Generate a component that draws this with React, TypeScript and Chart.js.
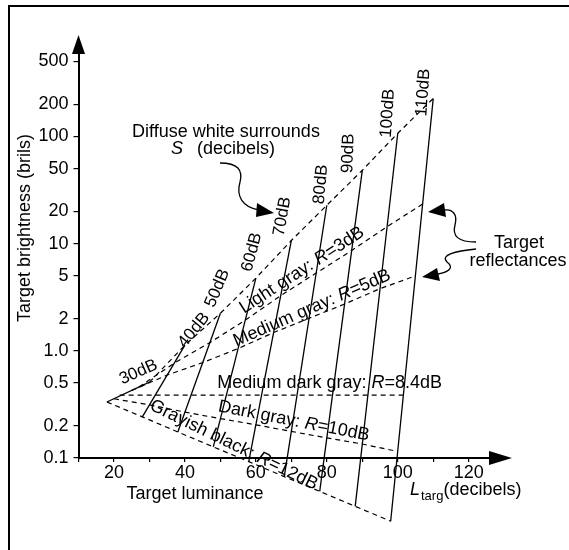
import React, { useEffect, useRef } from "react";
import { Chart, registerables } from "chart.js";

Chart.register(...registerables);

// ---------- data ----------
const surrounds = [30, 40, 50, 60, 70, 80, 90, 100, 110]; // diffuse white surround S (dB)
const surroundLabels = ["30dB", "40dB", "50dB", "60dB", "70dB", "80dB", "90dB", "100dB", "110dB"];

// target reflectances (dB below white)
const reflWhite = 0;
const reflLightGray = 3;
const reflMediumGray = 5;
const reflMediumDarkGray = 8.4;
const reflDarkGray = 10;
const reflGrayishBlack = 12;

// brightness (brils) read at L = S - R on each surround line
const whiteBrils = [0.51, 1.13, 2.24, 4.76, 10.7, 22.8, 48.3, 107, 226];
const lightGrayBrils = [0.458, 0.768, 1.19, 1.93, 3.27, 5.31, 8.61, 14.4, 23.4];
const mediumGrayBrils = [0.427, 0.594, 0.776, 1.05, 1.48, 2.01, 2.73, 3.8, 5.0];
const mediumDarkGrayBrils = [0.386, 0.386, 0.386, 0.386, 0.386, 0.386, 0.386, 0.386, 0.386];
const darkGrayBrils = [0.357, 0.313, 0.268, 0.233, 0.204, 0.177, 0.154, 0.135, 0.115];
const grayishBlackBrils = [0.333, 0.242, 0.175, 0.127, 0.0925, 0.0671, 0.0488, 0.0354, 0.0257];

const xTickLabels = ["20", "40", "60", "80", "100", "120"];
const yTickValues = [0.1, 0.2, 0.5, 1, 2, 5, 10, 20, 50, 100, 200, 500];
const yTickLabels = ["0.1", "0.2", "0.5", "1.0", "2", "5", "10", "20", "50", "100", "200", "500"];

// label placement (pixel offsets from top of each surround line) and rotation
const surroundLabelDx = [-11, 9, -3, -4, -9, -6, -14, -10, -10];
const surroundLabelDy = [-10, -15, -25, -26, -24, -21, -17, -20, -6];
const surroundLabelRot = [-24, -51, -67, -75, -80, -85, -88, -86, -86];

const FONT = "'Liberation Sans', Arial, Helvetica, sans-serif";

type Part = [string, boolean];

function drawRich(ctx: CanvasRenderingContext2D, parts: Part[], cx: number, cy: number, angleDeg: number, size: number) {
  ctx.save();
  ctx.translate(cx, cy);
  ctx.rotate((angleDeg * Math.PI) / 180);
  ctx.textBaseline = "middle";
  ctx.textAlign = "left";
  ctx.fillStyle = "#000";
  let total = 0;
  const widths = parts.map(([t, it]) => {
    ctx.font = `${it ? "italic " : ""}${size}px ${FONT}`;
    const w = ctx.measureText(t).width;
    total += w;
    return w;
  });
  let x = -total / 2;
  parts.forEach(([t, it], i) => {
    ctx.font = `${it ? "italic " : ""}${size}px ${FONT}`;
    ctx.fillText(t, x, 0);
    x += widths[i];
  });
  ctx.restore();
}

function tri(ctx: CanvasRenderingContext2D, a: number[], b: number[], c: number[]) {
  ctx.beginPath();
  ctx.moveTo(a[0], a[1]);
  ctx.lineTo(b[0], b[1]);
  ctx.lineTo(c[0], c[1]);
  ctx.closePath();
  ctx.fill();
}

const annotations = {
  id: "annotations",
  afterDraw(chart: any) {
    const ctx: CanvasRenderingContext2D = chart.ctx;
    const xs = chart.scales.x;
    const ys = chart.scales.y;
    const area = chart.chartArea;
    ctx.save();
    ctx.fillStyle = "#000";
    ctx.strokeStyle = "#000";

    // frame (top and left edges of the scanned box)
    ctx.lineWidth = 2;
    ctx.beginPath();
    ctx.moveTo(9, 550);
    ctx.lineTo(9, 6);
    ctx.lineTo(569, 6);
    ctx.stroke();

    // axis arrowheads
    tri(ctx, [area.left, area.top - 18], [area.left - 6.5, area.top + 1], [area.left + 6.5, area.top + 1]);
    tri(ctx, [area.right + 22, area.bottom], [area.right - 1, area.bottom - 7], [area.right - 1, area.bottom + 7]);

    // surround labels
    surrounds.forEach((s, i) => {
      const px = xs.getPixelForValue(s) + surroundLabelDx[i];
      const py = ys.getPixelForValue(whiteBrils[i]) + surroundLabelDy[i];
      drawRich(ctx, [[surroundLabels[i], false]], px, py, surroundLabelRot[i], 17);
    });

    // reflectance labels
    drawRich(ctx, [["Light gray: ", false], ["R", true], ["=3dB", false]], xs.getPixelForValue(73), ys.getPixelForValue(5.65), -33, 18);
    drawRich(ctx, [["Medium gray: ", false], ["R", true], ["=5dB", false]], xs.getPixelForValue(75.8), ys.getPixelForValue(2.5), -23.5, 18);
    drawRich(ctx, [["Medium dark gray: ", false], ["R", true], ["=8.4dB", false]], xs.getPixelForValue(80.8), ys.getPixelForValue(0.5), 0, 18);
    drawRich(ctx, [["Dark gray: ", false], ["R", true], ["=10dB", false]], xs.getPixelForValue(70.7), ys.getPixelForValue(0.221), 11, 18);
    drawRich(ctx, [["Grayish black: ", false], ["R", true], ["=12dB", false]], xs.getPixelForValue(53.8), ys.getPixelForValue(0.132), 26, 18);

    // axis titles
    drawRich(ctx, [["Target brightness (brils)", false]], 25, 228, -90, 18);
    drawRich(ctx, [["Target luminance", false]], 195, 494, 0, 18);
    ctx.textBaseline = "alphabetic";
    ctx.textAlign = "left";
    ctx.font = `italic 18px ${FONT}`;
    ctx.fillText("L", 410, 495);
    let x = 410 + ctx.measureText("L").width + 1;
    ctx.font = `13px ${FONT}`;
    ctx.fillText("targ", x, 500);
    x += ctx.measureText("targ").width;
    ctx.font = `18px ${FONT}`;
    ctx.fillText("(decibels)", x, 495);

    // "Diffuse white surrounds S (decibels)"
    drawRich(ctx, [["Diffuse white surrounds", false]], 226, 132, 0, 18);
    drawRich(ctx, [["S", true]], 177, 149, 0, 18);
    ctx.textBaseline = "middle";
    ctx.font = `18px ${FONT}`;
    ctx.fillText("(decibels)", 197, 149);

    // "Target reflectances"
    drawRich(ctx, [["Target", false]], 519, 243, 0, 18);
    drawRich(ctx, [["reflectances", false]], 518, 261, 0, 18);

    // curved arrows
    ctx.lineWidth = 1.3;
    ctx.beginPath();
    ctx.moveTo(220, 163);
    ctx.bezierCurveTo(238, 163, 243, 170, 240, 182);
    ctx.bezierCurveTo(236, 196, 242, 207, 259, 210);
    ctx.stroke();
    tri(ctx, [274, 213], [257, 203], [256, 217]);

    ctx.beginPath();
    ctx.moveTo(476, 242);
    ctx.bezierCurveTo(458, 242, 452, 236, 455, 225);
    ctx.bezierCurveTo(458, 214, 452, 209, 445, 210);
    ctx.stroke();
    tri(ctx, [428, 212], [444, 203], [446, 217]);

    ctx.beginPath();
    ctx.moveTo(476, 249);
    ctx.bezierCurveTo(455, 251, 440, 255, 447, 262);
    ctx.bezierCurveTo(455, 268, 448, 272, 438, 274);
    ctx.stroke();
    tri(ctx, [422, 277], [437, 268], [440, 281]);

    ctx.restore();
  },
};

export default function App() {
  const canvasRef = useRef<HTMLCanvasElement | null>(null);

  useEffect(() => {
    document.body.style.margin = "0";
    const canvas = canvasRef.current;
    if (!canvas) return;

    const solid = (pts: { x: number; y: number }[]) => ({
      data: pts,
      showLine: true,
      borderColor: "#000",
      borderWidth: 1.3,
      pointRadius: 0,
      pointHoverRadius: 0,
      clip: false as const,
    });
    const dashed = (r: number, vals: number[]) => ({
      ...solid(surrounds.map((s, i) => ({ x: s - r, y: vals[i] }))),
      borderWidth: 1.2,
      borderDash: [5, 4],
    });

    const datasets: any[] = [];
    surrounds.forEach((s, i) => {
      datasets.push(solid([
        { x: s - reflWhite, y: whiteBrils[i] },
        { x: s - reflGrayishBlack, y: grayishBlackBrils[i] },
      ]));
    });
    datasets.push(dashed(reflWhite, whiteBrils));
    datasets.push(dashed(reflLightGray, lightGrayBrils));
    datasets.push(dashed(reflMediumGray, mediumGrayBrils));
    datasets.push(dashed(reflMediumDarkGray, mediumDarkGrayBrils));
    datasets.push(dashed(reflDarkGray, darkGrayBrils));
    datasets.push(dashed(reflGrayishBlack, grayishBlackBrils));

    const tickFont = { family: FONT, size: 18 };

    const chart = new Chart(canvas, {
      type: "scatter",
      data: { datasets },
      options: {
        animation: false,
        responsive: false,
        devicePixelRatio: 1,
        events: [],
        layout: { padding: { left: 0, top: 53, right: 79, bottom: 0 } },
        plugins: { legend: { display: false }, tooltip: { enabled: false } },
        scales: {
          x: {
            type: "linear",
            min: 10,
            max: 126,
            afterFit: (scale: any) => {
              scale.height = 92;
            },
            ticks: {
              stepSize: 10,
              includeBounds: false,
              autoSkip: false,
              maxRotation: 0,
              color: "#000",
              font: tickFont,
              padding: 0,
              callback: (v: any) => {
                const s = String(v);
                return xTickLabels.includes(s) ? s : "";
              },
            },
            grid: { drawOnChartArea: false, drawTicks: true, tickLength: 4, color: "#000", lineWidth: 1.2 },
            border: { display: true, color: "#000", width: 2 },
          },
          y: {
            type: "logarithmic",
            min: 0.1,
            max: 600,
            afterFit: (scale: any) => {
              scale.width = 78.5;
            },
            afterBuildTicks: (scale: any) => {
              scale.ticks = yTickValues.map((v) => ({ value: v }));
            },
            ticks: {
              autoSkip: false,
              color: "#000",
              font: tickFont,
              padding: 5,
              callback: (v: any) => {
                const i = yTickValues.indexOf(Number(v));
                return i >= 0 ? yTickLabels[i] : "";
              },
            },
            grid: { drawOnChartArea: false, drawTicks: true, tickLength: 5, color: "#000", lineWidth: 1.2 },
            border: { display: true, color: "#000", width: 2 },
          },
        },
      },
      plugins: [annotations],
    });

    return () => chart.destroy();
  }, []);

  return (
    <div style={{ width: 569, height: 550, background: "#fff" }}>
      <canvas ref={canvasRef} width={569} height={550} style={{ display: "block" }} />
    </div>
  );
}
